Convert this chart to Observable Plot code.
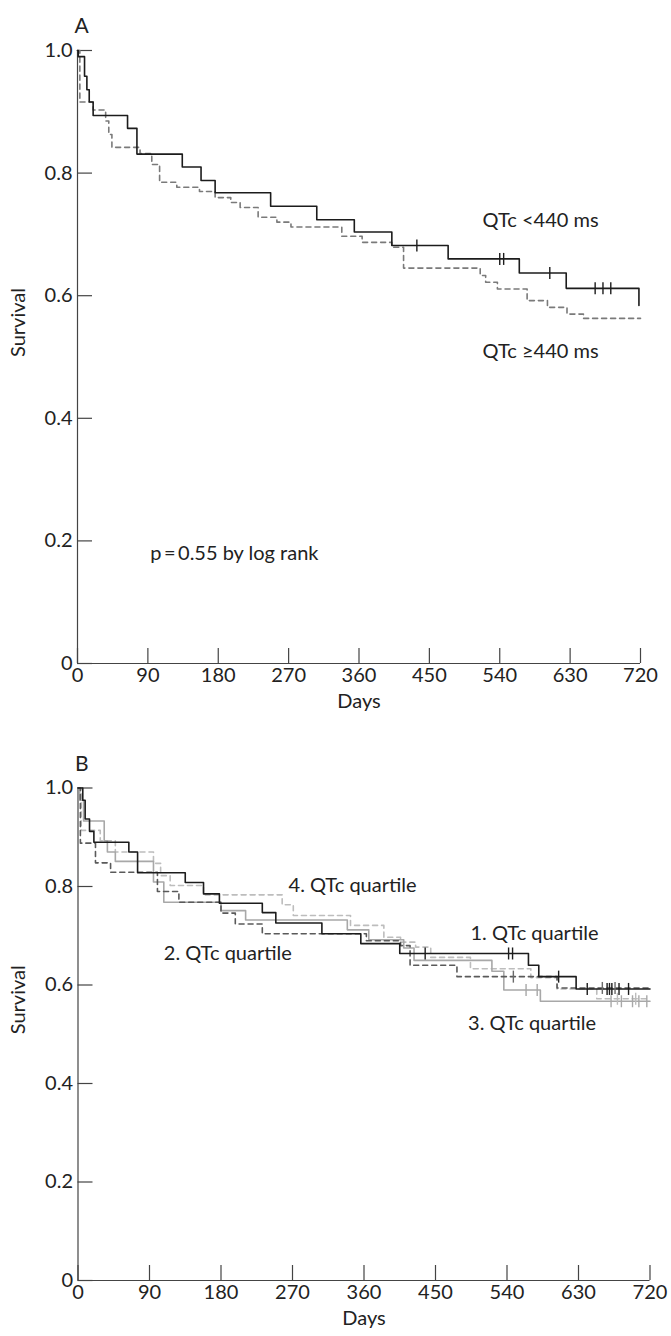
<!DOCTYPE html>
<html><head><meta charset="utf-8">
<script src="https://cdn.jsdelivr.net/npm/d3@7"></script>
<script src="https://cdn.jsdelivr.net/npm/@observablehq/plot@0.6"></script>
<style>body{margin:0;background:#fff} #c svg{display:block}</style>
</head><body><div id="c"></div>
<script>
// ---------- DATA ----------
const xTicks = [0, 90, 180, 270, 360, 450, 540, 630, 720];
const yTicks = [0, 0.2, 0.4, 0.6, 0.8, 1.0];

// Panel A
const aLtDays = [0, 1, 9, 12, 15, 20, 64, 76, 134, 158, 176, 247, 306, 354, 402, 474, 565, 625, 718];
const aLtSurv = [1.0, 0.99, 0.958, 0.936, 0.916, 0.894, 0.873, 0.831, 0.810, 0.788, 0.768, 0.746, 0.724, 0.704, 0.682, 0.660, 0.637, 0.612, 0.584];
const aLtCens = [434, 540, 545, 604, 662, 672, 682];

const aGeDays = [0, 3, 20, 36, 40, 44, 80, 95, 105, 127, 156, 176, 196, 208, 231, 255, 273, 338, 364, 402, 417, 515, 522, 537, 575, 601, 626, 647, 720];
const aGeSurv = [1.0, 0.916, 0.903, 0.885, 0.863, 0.842, 0.832, 0.814, 0.785, 0.777, 0.770, 0.760, 0.752, 0.744, 0.728, 0.720, 0.712, 0.697, 0.687, 0.679, 0.645, 0.633, 0.622, 0.611, 0.592, 0.581, 0.570, 0.563, 0.563];

const aLabels = ["QTc <440 ms", "QTc \u2265440 ms", "p\u2009=\u20090.55 by log rank"];
const aLabelDay = [518, 518, 93];
const aLabelSurv = [0.723, 0.509, 0.18];

// Panel B
const q1Days = [0, 6, 9, 14.5, 20, 64, 75, 135, 158, 178, 232, 249, 307, 356, 405, 567, 580, 627, 720];
const q1Surv = [1.0, 0.975, 0.937, 0.912, 0.890, 0.870, 0.828, 0.808, 0.785, 0.766, 0.747, 0.726, 0.704, 0.684, 0.664, 0.640, 0.617, 0.592, 0.592];
const q1Cens = [437, 542, 547, 605, 641, 666, 669, 672, 681, 693];

const q2Days = [0, 3, 22, 41, 100, 127, 180, 198, 232, 363, 406, 418, 477, 603, 720];
const q2Surv = [1.0, 0.888, 0.848, 0.829, 0.790, 0.768, 0.746, 0.724, 0.704, 0.690, 0.680, 0.640, 0.617, 0.594, 0.594];
const q2Cens = [548, 660, 676];

const q3Days = [0, 2, 7, 33, 37, 47, 95, 108, 180, 211, 339, 366, 410, 423, 521, 536, 582, 720];
const q3Surv = [1.0, 0.975, 0.933, 0.893, 0.870, 0.851, 0.809, 0.768, 0.751, 0.732, 0.712, 0.692, 0.675, 0.650, 0.628, 0.590, 0.567, 0.567];
const q3Cens = [564, 578, 671, 684, 698, 706, 716];

const q4Days = [0, 4, 28, 47, 95, 104, 116, 158, 257, 271, 343, 385, 406, 425, 444, 494, 570, 603, 653, 720];
const q4Surv = [1.0, 0.914, 0.893, 0.870, 0.847, 0.822, 0.802, 0.783, 0.763, 0.741, 0.721, 0.697, 0.687, 0.677, 0.656, 0.633, 0.615, 0.592, 0.572, 0.572];
const q4Cens = [679, 702];

const bLabels = ["4. QTc quartile", "2. QTc quartile", "1. QTc quartile", "3. QTc quartile"];
const bLabelDay = [265, 108, 494, 491];
const bLabelSurv = [0.802, 0.664, 0.705, 0.522];

// ---------- helpers ----------
const font = "Lato, 'Open Sans', 'DejaVu Sans', sans-serif";
const FS = 20;
const toRows = (days, surv) => days.map((d, i) => ({day: d, surv: surv[i]}));
const stepAt = (days, surv, t) => { let v = surv[0]; for (let i = 0; i < days.length; i++) if (days[i] <= t) v = surv[i]; return v; };
const censRows = (days, surv, cens) => cens.map(t => ({day: t, surv: stepAt(days, surv, t)}));
const vbar = {draw(ctx, size) { const h = Math.sqrt(size / Math.PI); ctx.moveTo(0, -h); ctx.lineTo(0, h); }};
const AX = "#444";

function frameMarks(letter) {
  return [
    Plot.ruleX([0], {stroke: AX, strokeWidth: 1.2}),
    Plot.ruleY([0], {stroke: AX, strokeWidth: 1.2}),
    Plot.axisY(yTicks, {tickSize: -15, tickFormat: () => "", label: null, stroke: AX, strokeWidth: 1.2}),
    Plot.axisY(yTicks, {tickSize: 0, tickPadding: 5, tickFormat: d => d === 0 ? "0" : d.toFixed(1), label: null, fontSize: FS, fill: "#222"}),
    Plot.axisX(xTicks, {tickSize: -15, tickFormat: () => "", label: null, stroke: AX, strokeWidth: 1.2}),
    Plot.axisX(xTicks, {tickSize: 0, tickPadding: 4, label: null, fontSize: FS, fill: "#222"}),
    Plot.text([letter], {frameAnchor: "top-left", textAnchor: "start", dx: -3, dy: -32, fontSize: FS + 1, fill: "#222"}),
    Plot.text(["Survival"], {frameAnchor: "left", rotate: -90, dx: -59, fontSize: FS, fill: "#222"}),
    Plot.text(["Days"], {frameAnchor: "bottom", dy: 44, fontSize: FS, fill: "#222"})
  ];
}
function curve(days, surv, stroke, dash) {
  return Plot.line(toRows(days, surv), {x: "day", y: "surv", curve: "step-after", stroke, strokeWidth: 1.6, strokeDasharray: dash});
}
function cens(days, surv, c, stroke) {
  return Plot.dot(censRows(days, surv, c), {x: "day", y: "surv", symbol: vbar, r: 6, fill: "none", stroke, strokeWidth: 1.4});
}
function labels(texts, ds, ss) {
  return Plot.text(texts.map((t, i) => ({t, day: ds[i], surv: ss[i]})), {x: "day", y: "surv", text: "t", textAnchor: "start", fontSize: FS, fill: "#222"});
}

const common = {width: 671, x: {domain: [0, 720]}, y: {domain: [0, 1]},
  style: {fontFamily: font, fontSize: FS + "px", color: "#222", background: "#fff", overflow: "visible"}};

const plotA = Plot.plot({...common, height: 710, marginTop: 50, marginBottom: 47, marginLeft: 77, marginRight: 31,
  marks: [
    ...frameMarks("A"),
    curve(aGeDays, aGeSurv, "#7a7a7a", "5,4"),
    curve(aLtDays, aLtSurv, "#1c1c1c", null),
    cens(aLtDays, aLtSurv, aLtCens, "#1c1c1c"),
    labels(aLabels, aLabelDay, aLabelSurv)
  ]});

const plotB = Plot.plot({...common, height: 626, marginTop: 77.5, marginBottom: 56, marginLeft: 77.5, marginRight: 21.5,
  marks: [
    ...frameMarks("B"),
    curve(q4Days, q4Surv, "#bdbdbd", "5,4"),
    curve(q3Days, q3Surv, "#a8a8a8", null),
    curve(q2Days, q2Surv, "#5a5a5a", "5,4"),
    curve(q1Days, q1Surv, "#1c1c1c", null),
    cens(q4Days, q4Surv, q4Cens, "#bdbdbd"),
    cens(q3Days, q3Surv, q3Cens, "#a8a8a8"),
    cens(q2Days, q2Surv, q2Cens, "#6a6a6a"),
    cens(q1Days, q1Surv, q1Cens, "#1c1c1c"),
    labels(bLabels, bLabelDay, bLabelSurv)
  ]});

document.getElementById("c").append(plotA, plotB);
</script>
</body></html>
